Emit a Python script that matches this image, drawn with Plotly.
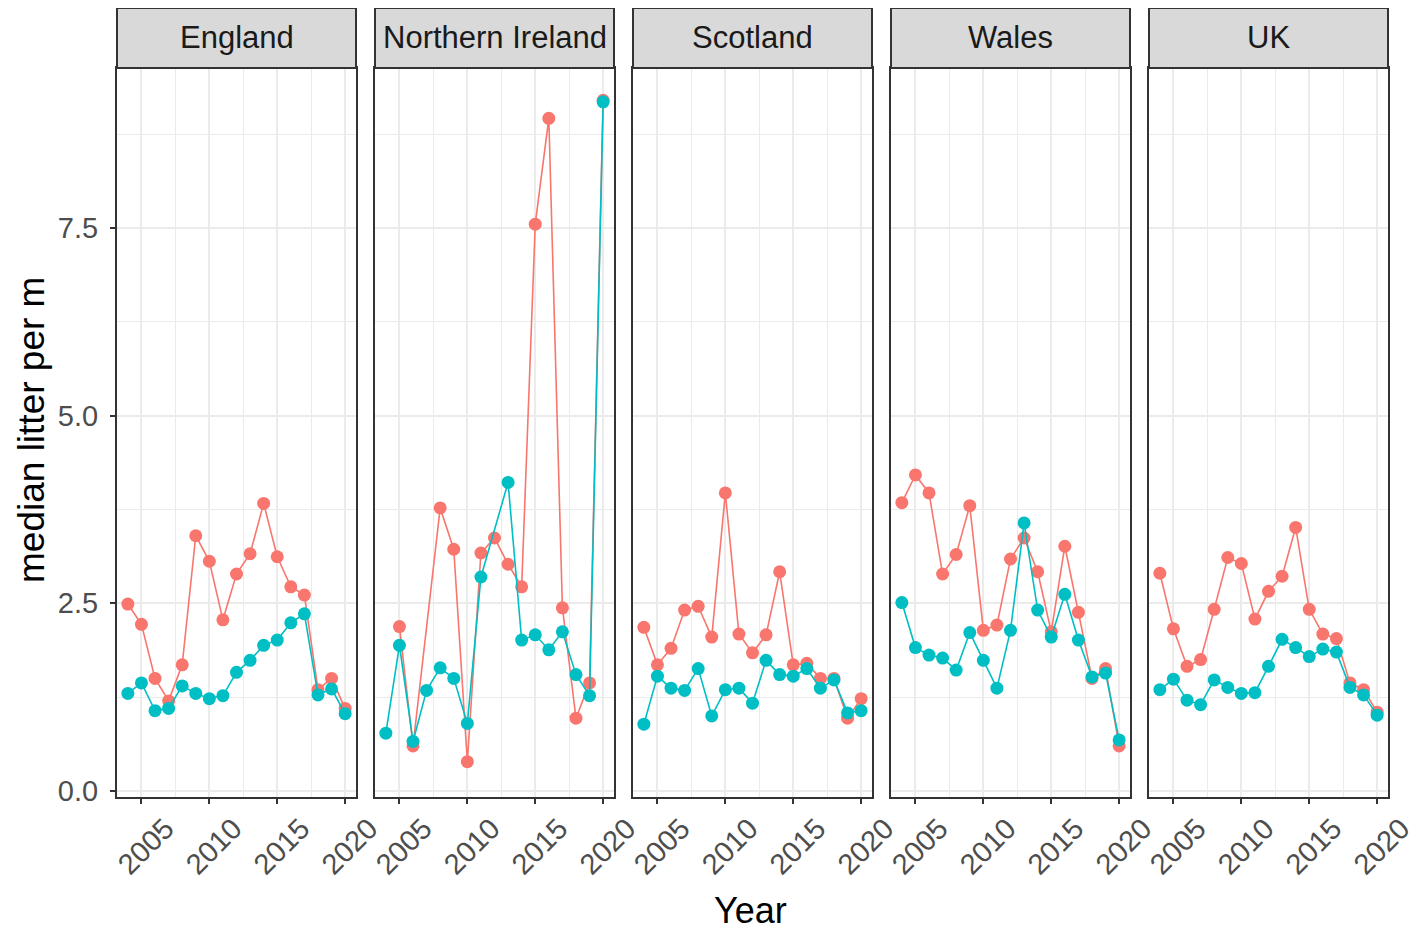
import plotly.graph_objects as go

years = list(range(2004, 2021))
countries = ["England", "Northern Ireland", "Scotland", "Wales", "UK"]

england_red = [2.49, 2.22, 1.50, 1.20, 1.68, 3.40, 3.06, 2.28, 2.89, 3.16, 3.83, 3.12, 2.72, 2.61, 1.35, 1.50, 1.10]
england_teal = [1.30, 1.44, 1.07, 1.10, 1.40, 1.30, 1.23, 1.27, 1.58, 1.74, 1.94, 2.01, 2.24, 2.36, 1.28, 1.36, 1.03]

ni_red = [None, 2.19, 0.60, None, 3.77, 3.22, 0.39, 3.17, 3.37, 3.02, 2.72, 7.55, 8.96, 2.44, 0.97, 1.44, 9.20]
ni_teal = [0.77, 1.94, 0.66, 1.34, 1.64, 1.50, 0.90, 2.85, None, 4.11, 2.01, 2.08, 1.88, 2.12, 1.55, 1.27, 9.18]

scotland_red = [2.18, 1.68, 1.90, 2.41, 2.46, 2.05, 3.97, 2.09, 1.84, 2.08, 2.92, 1.68, 1.70, 1.50, 1.50, 0.97, 1.23]
scotland_teal = [0.89, 1.53, 1.37, 1.34, 1.63, 1.00, 1.35, 1.37, 1.17, 1.74, 1.55, 1.53, 1.63, 1.37, 1.48, 1.04, 1.07]

wales_red = [3.84, 4.21, 3.97, 2.89, 3.15, 3.80, 2.14, 2.21, 3.09, 3.37, 2.92, 2.12, 3.26, 2.38, 1.50, 1.63, 0.60]
wales_teal = [2.51, 1.91, 1.81, 1.77, 1.61, 2.11, 1.74, 1.37, 2.14, 3.57, 2.41, 2.05, 2.62, 2.01, 1.52, 1.57, 0.68]

uk_red = [2.90, 2.16, 1.66, 1.75, 2.42, 3.11, 3.03, 2.29, 2.66, 2.86, 3.51, 2.42, 2.09, 2.03, 1.44, 1.35, 1.05]
uk_teal = [1.35, 1.49, 1.21, 1.15, 1.48, 1.38, 1.30, 1.31, 1.66, 2.02, 1.91, 1.79, 1.89, 1.85, 1.38, 1.28, 1.01]

red_series = [england_red, ni_red, scotland_red, wales_red, uk_red]
teal_series = [england_teal, ni_teal, scotland_teal, wales_teal, uk_teal]

RED = "#F8766D"
TEAL = "#00BFC4"
W, H = 1424, 940
OFF = 8  # page body margin
FONT = "Liberation Sans, Arial, sans-serif"

panel_left0 = 117
panel_step = 258
panel_w = 239
panel_top = 68
panel_bottom = 797
strip_top = 8


def px_x(p):
    return (p - OFF) / W


def px_y(p):
    return 1 - (p - OFF) / H


fig = go.Figure()
layout = {}
shapes = []
annotations = []

for i, name in enumerate(countries):
    ax = "" if i == 0 else str(i + 1)
    x0 = panel_left0 + i * panel_step
    x1 = x0 + panel_w
    for vals, col in ((red_series[i], RED), (teal_series[i], TEAL)):
        fig.add_trace(go.Scatter(
            x=years, y=vals, mode="lines+markers",
            line=dict(color=col, width=1.6),
            marker=dict(color=col, size=13),
            connectgaps=True, showlegend=False,
            xaxis="x" + ax, yaxis="y" + ax,
        ))
    layout["xaxis" + ax] = dict(
        domain=[px_x(x0), px_x(x1)], anchor="y" + ax,
        range=[2003.2, 2020.8], tick0=2005, dtick=5,
        showgrid=True, gridcolor="#EBEBEB", gridwidth=2,
        minor=dict(tick0=2002.5, dtick=2.5, showgrid=True, gridcolor="#EBEBEB", gridwidth=1.2),
        showline=True, linecolor="#333333", linewidth=2, mirror=True,
        ticks="outside", ticklen=5, tickwidth=2, tickcolor="#333333",
        tickangle=-45, ticklabelshift=24, ticklabelstandoff=-4,
        tickfont=dict(family=FONT, size=29, color="#4D4D4D"),
        zeroline=False, automargin=False,
    )
    layout["yaxis" + ax] = dict(
        domain=[px_y(panel_bottom), px_y(panel_top)], anchor="x" + ax,
        range=[-0.08, 9.63], tick0=0, dtick=2.5, tickformat=".1f",
        showgrid=True, gridcolor="#EBEBEB", gridwidth=2,
        minor=dict(tick0=0, dtick=1.25, showgrid=True, gridcolor="#EBEBEB", gridwidth=1.2),
        showline=True, linecolor="#333333", linewidth=2, mirror=True,
        ticks="outside" if i == 0 else "", ticklen=5, tickwidth=2, tickcolor="#333333",
        showticklabels=(i == 0), ticklabelstandoff=6,
        tickfont=dict(family=FONT, size=29, color="#4D4D4D"),
        zeroline=False, automargin=False,
    )
    shapes.append(dict(
        type="rect", xref="paper", yref="paper",
        x0=px_x(x0), x1=px_x(x1), y0=px_y(panel_top), y1=px_y(strip_top),
        fillcolor="#D9D9D9", line=dict(color="#333333", width=2), layer="above",
    ))
    annotations.append(dict(
        text=name, xref="paper", yref="paper",
        x=px_x((x0 + x1) / 2), y=px_y((strip_top + panel_top) / 2),
        xanchor="center", yanchor="middle", showarrow=False,
        font=dict(family=FONT, size=31, color="#1A1A1A"),
    ))

annotations.append(dict(
    text="median litter per m", xref="paper", yref="paper",
    x=px_x(32), y=px_y(430), textangle=-90,
    xanchor="center", yanchor="middle", showarrow=False,
    font=dict(family=FONT, size=37, color="#000000"),
))
annotations.append(dict(
    text="Year", xref="paper", yref="paper",
    x=px_x(750), y=px_y(910),
    xanchor="center", yanchor="middle", showarrow=False,
    font=dict(family=FONT, size=36, color="#000000"),
))

fig.update_layout(
    width=W, height=H,
    margin=dict(l=0, r=0, t=0, b=0),
    paper_bgcolor="white", plot_bgcolor="white",
    shapes=shapes, annotations=annotations,
    showlegend=False,
    **layout,
)

fig.write_html("out.html")
